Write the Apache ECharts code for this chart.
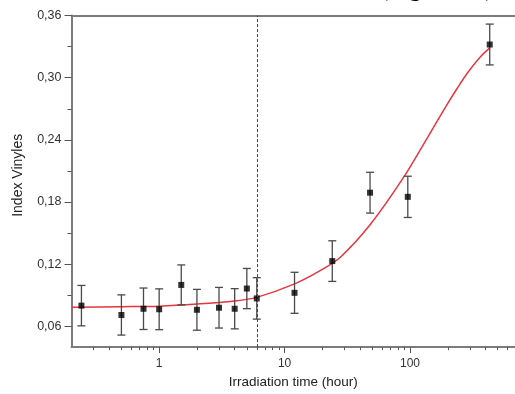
<!DOCTYPE html>
<html>
<head>
<meta charset="utf-8">
<script src="https://cdn.jsdelivr.net/npm/echarts@6/dist/echarts.min.js"></script>
<style>html,body{margin:0;padding:0;background:#fff;}#c{width:515px;height:394px;}</style>
</head>
<body>
<div id="c"></div>
<script>
// ---- data ----
const timeHours    = [0.24, 0.5, 0.75, 1, 1.5, 2, 3, 4, 5, 6, 12, 24, 48, 96, 432];
const indexVinyles = [0.080, 0.071, 0.077, 0.0765, 0.100, 0.076, 0.078, 0.077, 0.0965, 0.087, 0.0924, 0.123, 0.189, 0.185, 0.332];
const errorValues  = [0.0195, 0.0194, 0.020, 0.0197, 0.0193, 0.0197, 0.0196, 0.0194, 0.0194, 0.020, 0.0198, 0.0196, 0.0197, 0.0199, 0.0197];
const fitTime  = [0.2, 0.5, 1, 2, 4, 6, 12, 20, 28, 48, 88, 136, 195, 240, 285, 360, 434];
const fitValue = [0.0785, 0.0790, 0.0795, 0.0815, 0.0845, 0.0880, 0.101, 0.115, 0.127, 0.158, 0.203, 0.241, 0.273, 0.2905, 0.3040, 0.3195, 0.329];
const markTime = 6;
const xTicksMajor = [1, 10, 100];
const xTicksMinor = [0.3,0.4,0.5,0.6,0.7,0.8,0.9, 2,3,4,5,6,7,8,9, 20,30,40,50,60,70,80,90, 200,300,400,500,600];
const yTicksMajor = [0.06, 0.12, 0.18, 0.24, 0.30, 0.36];
const yTicksMinor = [0.09, 0.15, 0.21, 0.27, 0.33];
const xName = 'Irradiation time (hour)';
const yName = 'Index Vinyles';
const titleText = '(Figure 12)';

const FONT = '"Liberation Sans", Arial, sans-serif';
const AXIS_COLOR = '#7c7c7c';

const chart = echarts.init(document.getElementById('c'), null, {renderer: 'canvas'});

const pointData = timeHours.map((t, i) => [t, indexVinyles[i]]);
const errData = timeHours.map((t, i) => [t, indexVinyles[i] - errorValues[i], indexVinyles[i] + errorValues[i]]);
const fitData = fitTime.map((t, i) => [t, fitValue[i]]);

const baseX = {type: 'log', logBase: 10, min: 0.2, max: 687, gridIndex: 0, splitLine: {show: false}};
const baseY = {type: 'value', min: 0.04, max: 0.36, gridIndex: 0, splitLine: {show: false}};

chart.setOption({
  animation: false,
  backgroundColor: '#fff',
  textStyle: {fontFamily: FONT},
  grid: {left: 71.5, top: 15.5, right: 0, height: 335.5, containLabel: false},
  graphic: [{
    type: 'text', left: 380, top: -22,
    style: {text: titleText, font: 'bold 24px "Liberation Serif", "Times New Roman", serif', fill: '#000'}
  }],
  xAxis: [
    Object.assign({}, baseX, {
      position: 'bottom',
      axisLine: {show: true, lineStyle: {color: AXIS_COLOR, width: 2}},
      axisTick: {show: true, inside: false, length: 6, customValues: xTicksMajor, lineStyle: {color: '#555', width: 1}},
      axisLabel: {show: true, customValues: xTicksMajor, formatter: v => String(v), color: '#333', fontSize: 12, margin: 11, fontFamily: FONT},
      minorTick: {show: false},
      name: xName, nameLocation: 'middle', nameGap: 20,
      nameTextStyle: {color: '#222', fontSize: 13.5, fontFamily: FONT}
    }),
    Object.assign({}, baseX, {
      position: 'bottom',
      axisLine: {show: false},
      axisTick: {show: true, inside: false, length: 3, customValues: xTicksMinor, lineStyle: {color: '#555', width: 1}},
      axisLabel: {show: false}
    }),
    Object.assign({}, baseX, {
      position: 'top',
      axisLine: {show: true, lineStyle: {color: AXIS_COLOR, width: 2}},
      axisTick: {show: false},
      axisLabel: {show: false}
    })
  ],
  yAxis: [
    Object.assign({}, baseY, {
      position: 'left',
      axisLine: {show: true, lineStyle: {color: AXIS_COLOR, width: 2}},
      axisTick: {show: true, inside: false, length: 7, customValues: yTicksMajor, lineStyle: {color: '#555', width: 1}},
      axisLabel: {show: true, customValues: yTicksMajor, formatter: v => v.toFixed(2).replace('.', ','), color: '#333', fontSize: 12.5, margin: 10, fontFamily: FONT},
      name: yName, nameLocation: 'middle', nameGap: 46,
      nameTextStyle: {color: '#222', fontSize: 14, fontFamily: FONT, padding: [0, 0, 0, 12]}
    }),
    Object.assign({}, baseY, {
      position: 'left',
      axisLine: {show: false},
      axisTick: {show: true, inside: false, length: 4, customValues: yTicksMinor, lineStyle: {color: '#555', width: 1}},
      axisLabel: {show: false}
    })
  ],
  series: [
    {
      type: 'line', name: 'fit', xAxisIndex: 0, yAxisIndex: 0,
      data: fitData, smooth: 0.3, symbol: 'none',
      lineStyle: {color: '#e8353f', width: 1.5}, z: 2,
      markLine: {
        silent: true, symbol: ['none', 'none'],
        label: {show: false},
        lineStyle: {color: '#444', width: 1, type: [3, 2]},
        data: [{xAxis: markTime}]
      }
    },
    {
      type: 'custom', name: 'error', xAxisIndex: 0, yAxisIndex: 0,
      data: errData, encode: {x: 0, y: [1, 2]}, z: 3,
      renderItem: function (params, api) {
        const t = api.value(0);
        const lo = api.coord([t, api.value(1)]);
        const hi = api.coord([t, api.value(2)]);
        const hw = 4;
        const st = {stroke: '#4a4a4a', lineWidth: 1.3};
        return {type: 'group', children: [
          {type: 'line', shape: {x1: lo[0], y1: lo[1], x2: hi[0], y2: hi[1]}, style: st},
          {type: 'line', shape: {x1: lo[0] - hw, y1: lo[1], x2: lo[0] + hw, y2: lo[1]}, style: st},
          {type: 'line', shape: {x1: hi[0] - hw, y1: hi[1], x2: hi[0] + hw, y2: hi[1]}, style: st}
        ]};
      }
    },
    {
      type: 'scatter', name: 'points', xAxisIndex: 0, yAxisIndex: 0,
      data: pointData, symbol: 'rect', symbolSize: 6, z: 4,
      itemStyle: {color: '#000'}
    }
  ]
});
</script>
</body>
</html>
